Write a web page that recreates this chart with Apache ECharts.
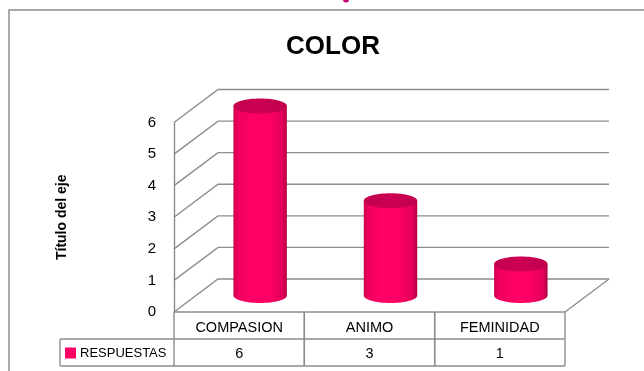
<!DOCTYPE html>
<html>
<head>
<meta charset="utf-8">
<script src="https://cdn.jsdelivr.net/npm/echarts@6/dist/echarts.min.js"></script>
<style>
  html, body { margin: 0; padding: 0; background: #ffffff; }
  #chart { width: 644px; height: 371px; }
</style>
</head>
<body>
<div id="chart"></div>
<script>
// Survey answers for "COLOR"
const categories = ['COMPASION', 'ANIMO', 'FEMINIDAD'];
const respuestas = [6, 3, 1];
const seriesName = 'RESPUESTAS';
const yTicks = [0, 1, 2, 3, 4, 5, 6];
const chartTitle = 'COLOR';
const axisTitle = 'Título del eje';

// Oblique depth of the 3D box (back plane offset from the front plane)
const DX = 44, DY = -33;
const LINE = '#8d8d8d';
const FONT = "'Liberation Sans', Arial, sans-serif";
const ROW_H = 27;

const chart = echarts.init(document.getElementById('chart'), null, { renderer: 'canvas' });

// Back wall, left wall and floor lines for each tick value
function renderWalls(params, api) {
  const cs = params.coordSys;
  const v = api.value(1);
  const y = api.coord([0, v])[1];
  const left = cs.x, right = cs.x + cs.width;
  const style = { stroke: LINE, lineWidth: 1.4, fill: null };
  const children = [{
    type: 'polyline',
    shape: { points: [[left, y], [left + DX, y + DY], [right + DX, y + DY]] },
    style: style
  }];
  if (v === 0) {
    children.push({
      type: 'polyline',
      shape: { points: [[right + DX, y + DY], [right, y]] },
      style: style
    });
  }
  return { type: 'group', children: children };
}

// Cylinder standing at mid-depth of the box
function renderCylinder(params, api) {
  const i = api.value(0);
  const v = api.value(1);
  const top = api.coord([i, v]);
  const base = api.coord([i, 0]);
  const bw = api.size([1, 0])[0];
  const w = bw * 0.41;
  const rx = w / 2, ry = 7.5;
  const cx = top[0] + DX / 2 - 1;
  const topY = top[1] + DY / 2;
  const baseY = base[1] + DY / 2;
  const side = new echarts.graphic.LinearGradient(0, 0, 1, 0, [
    { offset: 0, color: '#c9004f' },
    { offset: 0.08, color: '#ee005f' },
    { offset: 0.35, color: '#ff0066' },
    { offset: 0.7, color: '#fb0064' },
    { offset: 0.92, color: '#e0005a' },
    { offset: 1, color: '#b00046' }
  ]);
  const cap = new echarts.graphic.LinearGradient(0, 0, 1, 0, [
    { offset: 0, color: '#c2004e' },
    { offset: 0.5, color: '#cc0054' },
    { offset: 1, color: '#c0004d' }
  ]);
  return {
    type: 'group',
    children: [
      { type: 'ellipse', shape: { cx: cx, cy: baseY, rx: rx, ry: ry }, style: { fill: side } },
      { type: 'rect', shape: { x: cx - rx, y: topY, width: w, height: baseY - topY }, style: { fill: side } },
      { type: 'ellipse', shape: { cx: cx, cy: topY, rx: rx, ry: ry }, style: { fill: cap } }
    ]
  };
}

// Data table under the plot: category row and value row
function renderTable(params, api) {
  const cs = params.coordSys;
  const i = api.value(0);
  const bw = api.size([1, 0])[0];
  const y0 = api.coord([i, 0])[1];
  const x0 = cs.x + i * bw;
  const x1 = x0 + bw;
  const y1 = y0 + ROW_H, y2 = y1 + ROW_H;
  const ls = { stroke: LINE, lineWidth: 1.4, fill: null };
  const ts = (t, x, y) => ({
    type: 'text',
    style: { text: t, x: x, y: y, align: 'center', verticalAlign: 'middle',
             font: '14.5px ' + FONT, fill: '#000000' }
  });
  const children = [
    { type: 'line', shape: { x1: x0, y1: y0, x2: x1, y2: y0 }, style: ls },
    { type: 'line', shape: { x1: x0, y1: y1, x2: x1, y2: y1 }, style: ls },
    { type: 'line', shape: { x1: x0, y1: y2, x2: x1, y2: y2 }, style: ls },
    { type: 'line', shape: { x1: x0, y1: y0, x2: x0, y2: y2 }, style: ls },
    { type: 'line', shape: { x1: x1, y1: y0, x2: x1, y2: y2 }, style: ls },
    ts(categories[i], (x0 + x1) / 2, (y0 + y1) / 2 + 2),
    ts(String(api.value(1)), (x0 + x1) / 2, (y1 + y2) / 2 + 1)
  ];
  if (i === 0) {
    const hx = x0 - 114;
    children.push(
      { type: 'line', shape: { x1: hx, y1: y1, x2: x0, y2: y1 }, style: ls },
      { type: 'line', shape: { x1: hx, y1: y2, x2: x0, y2: y2 }, style: ls },
      { type: 'line', shape: { x1: hx, y1: y1, x2: hx, y2: y2 }, style: ls },
      { type: 'rect', shape: { x: hx + 5, y: (y1 + y2) / 2 - 5, width: 11, height: 11 },
        style: { fill: '#ff0066' } },
      { type: 'text', style: { text: seriesName, x: hx + 20, y: (y1 + y2) / 2 + 1,
        align: 'left', verticalAlign: 'middle', font: '13px ' + FONT, fill: '#000000' } }
    );
  }
  return { type: 'group', children: children };
}

chart.setOption({
  animation: false,
  backgroundColor: '#ffffff',
  title: {
    text: chartTitle,
    left: 328,
    top: 29,
    textAlign: 'center',
    textStyle: { fontFamily: FONT, fontWeight: 'bold', fontSize: 26, color: '#000000' }
  },
  graphic: [
    { type: 'rect', shape: { x: 9, y: 10, width: 720, height: 420 },
      style: { fill: null, stroke: '#8d8d8d', lineWidth: 1.5 }, z: -10 },
    { type: 'circle', shape: { cx: 346, cy: -0.5, r: 3 }, style: { fill: '#cc0077' } }
  ],
  grid: { left: 174, top: 122.5, width: 391, height: 189.5, containLabel: false },
  xAxis: {
    type: 'category',
    data: categories,
    axisLine: { show: false },
    axisTick: { show: false },
    axisLabel: { show: false },
    splitLine: { show: false }
  },
  yAxis: {
    type: 'value',
    min: 0,
    max: 6,
    interval: 1,
    name: axisTitle,
    nameLocation: 'middle',
    nameRotate: 90,
    nameGap: 105,
    nameTextStyle: { fontFamily: FONT, fontWeight: 'bold', fontSize: 14, color: '#000000' },
    axisLine: { show: true, lineStyle: { color: LINE, width: 1.4 } },
    axisTick: { show: false },
    axisLabel: { margin: 18, fontFamily: FONT, fontSize: 15, color: '#000000' },
    splitLine: { show: false }
  },
  series: [
    {
      type: 'custom',
      name: 'walls',
      clip: false,
      silent: true,
      renderItem: renderWalls,
      data: yTicks.map(v => [0, v]),
      z: 1
    },
    {
      type: 'custom',
      name: seriesName,
      clip: false,
      renderItem: renderCylinder,
      data: respuestas.map((v, i) => [i, v]),
      z: 3
    },
    {
      type: 'custom',
      name: 'table',
      clip: false,
      silent: true,
      renderItem: renderTable,
      data: respuestas.map((v, i) => [i, v]),
      z: 2
    }
  ]
});
</script>
</body>
</html>
